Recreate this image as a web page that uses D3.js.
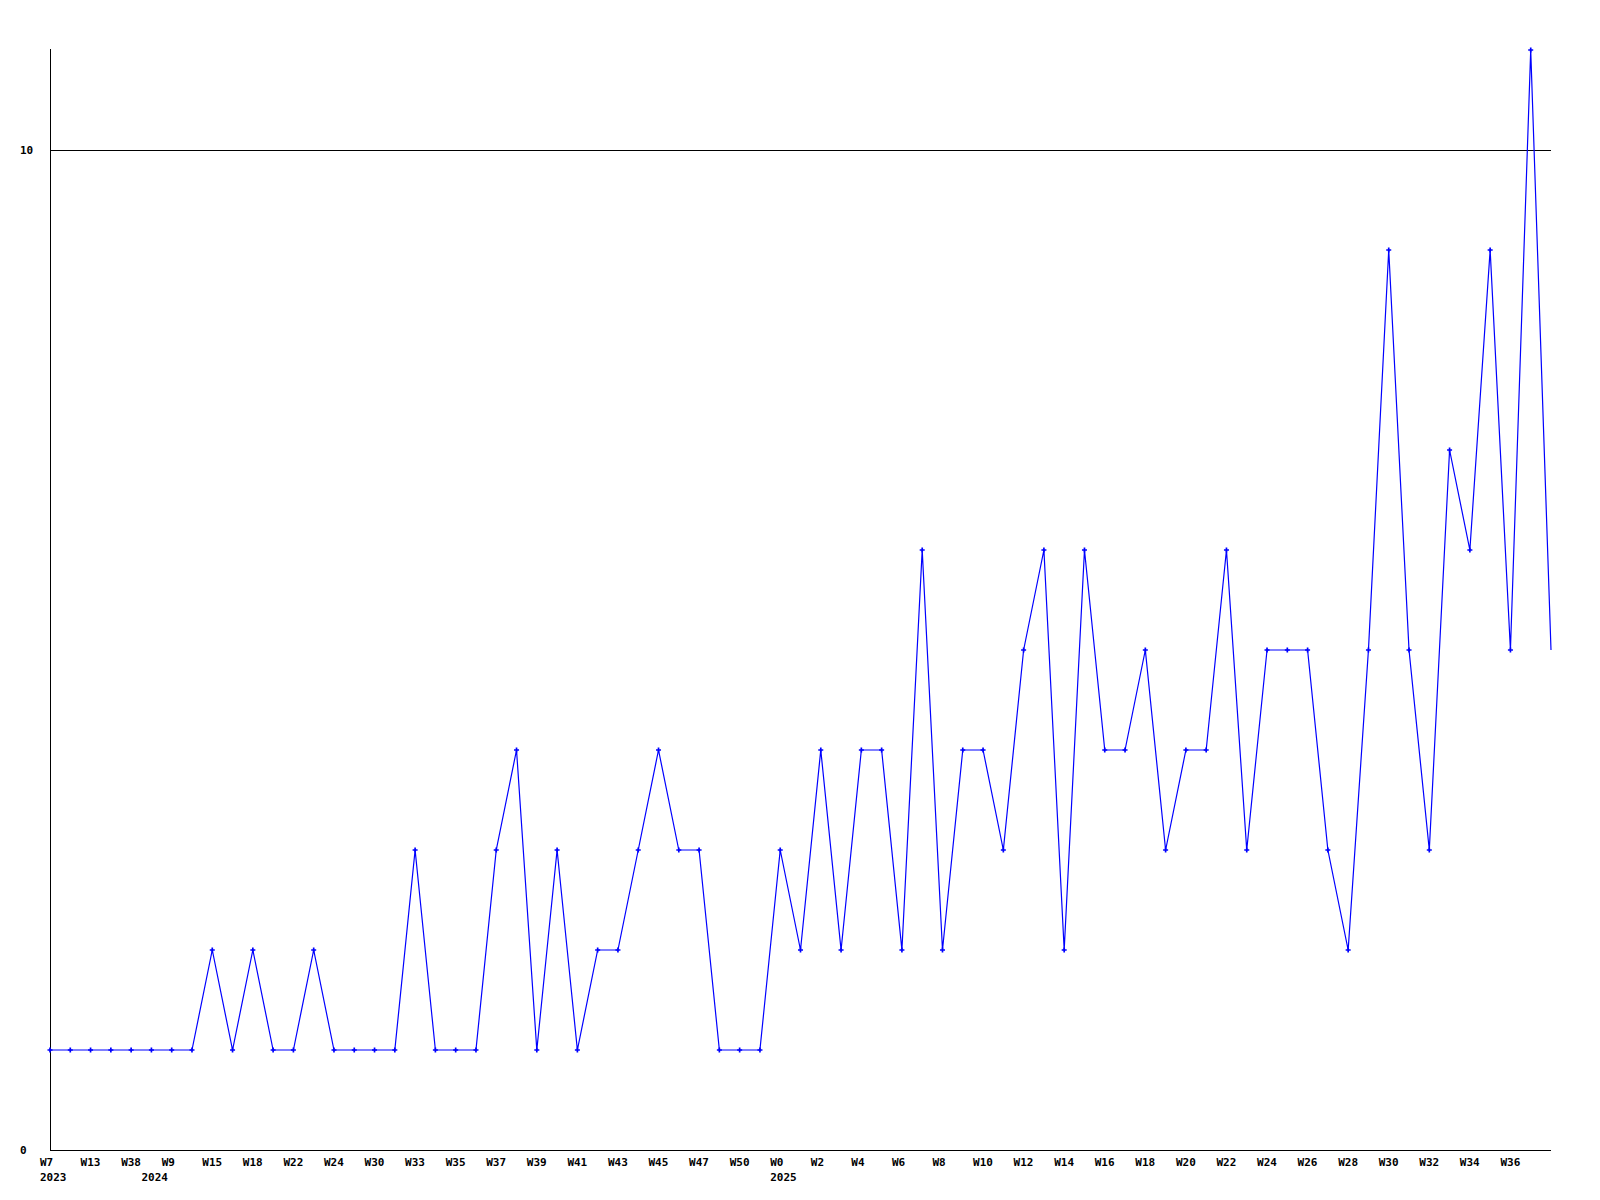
<!DOCTYPE html>
<html>
<head>
<meta charset="utf-8">
<script src="https://cdn.jsdelivr.net/npm/d3@7"></script>
<style>
  html, body { margin: 0; padding: 0; background: #fff; }
  svg text { font-family: "DejaVu Sans Mono", "Liberation Mono", monospace; font-weight: bold; font-size: 11px; fill: #000; }
</style>
</head>
<body>
<svg id="chart" width="1600" height="1200"></svg>
<script>
// Weekly values (75 weeks), one per point
const values = [1,1,1,1,1,1,1,1,2,1,2,1,1,2,1,1,1,1,3,1,1,1,3,4,1,3,1,2,2,3,4,3,3,1,1,1,3,2,4,2,4,4,2,6,2,4,4,3,5,6,2,6,4,4,5,3,4,4,6,3,5,5,5,3,2,5,9,5,3,7,6,9,5,11,5];
// Week tick labels, shown on every other point (point index -> label)
const weekTickIndex = [0,2,4,6,8,10,12,14,16,18,20,22,24,26,28,30,32,34,36,38,40,42,44,46,48,50,52,54,56,58,60,62,64,66,68,70,72];
const weekTickLabels = ["W7","W13","W38","W9","W15","W18","W22","W24","W30","W33","W35","W37","W39","W41","W43","W45","W47","W50","W0","W2","W4","W6","W8","W10","W12","W14","W16","W18","W20","W22","W24","W26","W28","W30","W32","W34","W36"];
// Year labels (point index -> year)
const yearIndex = [0,5,36];
const yearLabels = ["2023","2024","2025"];
// Y axis labels
const yTicks = [0,10];

(function () {
const svg = d3.select("#chart");
const mLeft = 50, mRight = 1551, mTop = 50, mBottom = 1150;

const x = d3.scaleLinear().domain([0, values.length - 1]).range([mLeft, mRight]);
const y = d3.scaleLinear().domain([0, 11]).range([mBottom, mTop]);

// gridline at 10
svg.append("line")
  .attr("x1", mLeft).attr("x2", mRight)
  .attr("y1", Math.round(y(10)) + 0.5).attr("y2", Math.round(y(10)) + 0.5)
  .attr("stroke", "#000").attr("stroke-width", 1);

// axes lines
svg.append("line")
  .attr("x1", mLeft + 0.5).attr("x2", mLeft + 0.5)
  .attr("y1", mTop - 1).attr("y2", mBottom)
  .attr("stroke", "#000").attr("stroke-width", 1);
svg.append("line")
  .attr("x1", mLeft).attr("x2", mRight)
  .attr("y1", mBottom + 0.5).attr("y2", mBottom + 0.5)
  .attr("stroke", "#000").attr("stroke-width", 1);

// y labels
svg.selectAll("text.ylab").data(yTicks).enter().append("text")
  .attr("class", "ylab")
  .attr("x", 20)
  .attr("y", d => y(d) + 4)
  .text(d => d);

// week labels
svg.selectAll("text.wlab").data(weekTickIndex).enter().append("text")
  .attr("class", "wlab")
  .attr("x", d => x(d) - 10)
  .attr("y", 1166)
  .text((d, i) => weekTickLabels[i]);

// year labels
svg.selectAll("text.yrlab").data(yearIndex).enter().append("text")
  .attr("class", "yrlab")
  .attr("x", d => x(d) - 10)
  .attr("y", 1181)
  .text((d, i) => yearLabels[i]);

// line
const line = d3.line().x((d, i) => x(i)).y(d => y(d));
svg.append("path")
  .datum(values)
  .attr("d", line)
  .attr("fill", "none")
  .attr("stroke", "#0000ff")
  .attr("stroke-width", 1.2);

// markers (last point has none)
const markerData = values.slice(0, values.length - 1);
const cross = d3.symbol().type(d3.symbolCross).size(14);
svg.selectAll("path.mk").data(markerData).enter().append("path")
  .attr("class", "mk")
  .attr("transform", (d, i) => `translate(${x(i)},${y(d)})`)
  .attr("d", cross)
  .attr("fill", "#0000ff");
})();
</script>
</body>
</html>
